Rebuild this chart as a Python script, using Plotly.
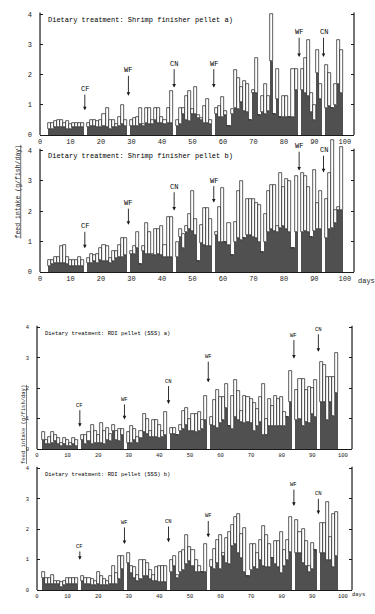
import plotly.graph_objects as go

# days with a bar; gap days (no feeding) are None in the series
DAYS_TOP = list(range(3, 100))
DAYS_BOTTOM = list(range(2, 99))

# panel a) shrimp finisher pellet: total daily intake and the dark (lower) part
TOTAL_A = [0.4, 0.4, 0.45, 0.5, 0.5, 0.4, 0.45, 0.35, 0.4, 0.4, 0.4, 0.4, None,
           0.4, 0.5, 0.5, 0.45, 0.5, 0.7, 0.9, 0.5, 0.5, 0.35, 0.6, 1.0, 0.5, None,
           0.5, 0.55, 0.6, 0.9, 0.35, 0.9, 0.9, 0.5, 0.9, 0.9, 0.6, 0.5, 0.9, 1.45, None,
           0.5, 0.9, 0.9, 1.3, 1.45, 0.85, 1.6, 0.65, 0.55, 0.95, 1.2, 0.5, None,
           0.9, 0.95, 1.25, 0.8, 0.3, 0.85, 2.15, 1.9, 1.6, 1.8, 1.7, 0.5, 1.4, 2.55,
           0.65, 1.3, 1.7, 1.3, 4.0, 0.7, 2.2, 0.6, 1.3, 1.3, 0.6, 2.2, 2.2, None,
           2.2, 2.55, 3.15, 1.4, 1.0, 2.8, 1.7, None,
           2.3, 2.05, 0.9, 1.7, 3.15, 2.8]
DARK_A = [0.2, 0.2, 0.25, 0.25, 0.25, 0.25, 0.2, 0.2, 0.25, 0.25, 0.25, 0.25, None,
          0.25, 0.3, 0.3, 0.25, 0.25, 0.3, 0.25, 0.2, 0.25, 0.25, 0.3, 0.35, 0.3, None,
          0.3, 0.3, 0.3, 0.35, 0.3, 0.4, 0.35, 0.35, 0.5, 0.4, 0.4, 0.35, 0.4, 0.4, None,
          0.3, 0.35, 0.7, 0.5, 0.45, 0.7, 0.7, 0.55, 0.5, 0.4, 0.4, 0.35, None,
          0.7, 0.6, 0.6, 0.65, 0.3, 0.7, 0.9, 0.85, 1.1, 0.8, 0.75, 0.5, 1.5, 1.4,
          0.65, 0.75, 0.7, 0.8, 2.45, 0.7, 1.2, 0.6, 0.6, 0.6, 0.6, 0.6, 1.5, None,
          1.5, 1.4, 1.3, 0.75, 0.5, 2.05, 1.2, None,
          0.9, 0.95, 0.9, 1.0, 1.7, 1.4]

# panel b) shrimp finisher pellet
TOTAL_B = [0.4, 0.4, 0.5, 0.5, 0.85, 0.9, 0.5, 0.4, 0.4, 0.4, 0.5, 0.4, None,
           0.45, 0.6, 0.55, 0.6, 0.8, 0.9, 0.85, 0.45, 0.7, 0.7, 0.9, 1.1, 1.1, None,
           0.7, 0.85, 1.3, 0.25, 0.85, 1.6, 1.3, 0.6, 1.4, 1.4, 1.5, 0.9, 1.8, 1.8, None,
           1.0, 1.4, 1.25, 1.5, 1.9, 2.65, 1.75, 0.35, 1.55, 2.1, 2.1, 1.75, None,
           1.3, 2.15, 2.75, 1.0, 1.6, 0.55, 1.65, 2.65, 3.0, 1.1, 2.4, 2.4, 2.4, 2.25,
           2.2, 0.65, 1.9, 2.65, 2.85, 2.85, 1.5, 3.25, 2.8, 3.05, 3.0, 0.8, 3.15, None,
           3.25, 3.15, 2.8, 1.15, 3.35, 2.25, 2.65, None,
           2.4, 3.25, 4.35, 2.05, 2.15, 4.1]
DARK_B = [0.2, 0.25, 0.3, 0.3, 0.3, 0.3, 0.25, 0.2, 0.2, 0.2, 0.2, 0.2, None,
          0.3, 0.3, 0.35, 0.3, 0.4, 0.35, 0.35, 0.3, 0.35, 0.45, 0.5, 0.5, 0.55, None,
          0.6, 0.6, 0.8, 0.25, 0.7, 0.6, 0.6, 0.55, 0.55, 0.6, 0.55, 0.5, 0.5, 0.5, None,
          0.5, 1.15, 0.8, 1.3, 1.4, 1.35, 1.2, 0.35, 0.95, 0.9, 0.85, 0.85, None,
          1.2, 1.0, 1.0, 1.0, 0.9, 0.55, 1.0, 1.1, 1.05, 1.1, 1.2, 1.2, 1.15, 1.1,
          1.0, 0.65, 1.0, 1.3, 1.4, 1.35, 1.3, 1.45, 1.5, 1.4, 1.3, 0.8, 1.3, None,
          1.3, 1.35, 1.3, 1.15, 1.35, 1.4, 1.4, None,
          1.1, 1.4, 1.45, 1.6, 2.05, 2.05]

# panel a) RDI pellet
TOTAL_C = [0.55, 0.3, 0.4, 0.55, 0.45, 0.35, 0.2, 0.35, 0.3, 0.2, 0.35, 0.3, None,
           0.45, 0.45, 0.55, 0.8, 0.6, 0.45, 0.85, 0.6, 0.7, 0.5, 0.8, 0.6, 0.65, 0.65, None,
           0.55, 0.75, 0.65, 0.4, 0.6, 1.15, 1.0, 0.6, 0.95, 0.95, 0.8, 0.6, 1.2, None,
           0.7, 0.7, 0.45, 0.8, 1.25, 1.35, 1.0, 1.15, 1.15, 1.2, 0.95, 1.75, None,
           1.05, 1.6, 1.95, 1.7, 1.7, 2.15, 0.75, 1.75, 2.25, 1.9, 1.25, 1.75, 1.7, 1.65,
           1.5, 1.3, 1.7, 2.15, 0.45, 1.65, 1.4, 1.75, 1.65, 1.7, 1.2, 1.05, 2.55, None,
           1.95, 2.3, 2.3, 1.95, 2.05, 2.0, 2.25, None,
           2.85, 2.75, 2.35, 2.35, 2.35, 3.15]
DARK_C = [0.3, 0.15, 0.15, 0.2, 0.25, 0.15, 0.1, 0.15, 0.1, 0.1, 0.15, 0.1, None,
          0.3, 0.15, 0.25, 0.15, 0.2, 0.2, 0.2, 0.15, 0.3, 0.25, 0.6, 0.3, 0.25, 0.45, None,
          0.2, 0.2, 0.3, 0.2, 0.35, 0.55, 0.5, 0.4, 0.4, 0.4, 0.35, 0.4, 0.45, None,
          0.5, 0.5, 0.45, 0.6, 0.65, 0.8, 0.6, 0.6, 0.55, 0.6, 0.65, 0.95, None,
          0.8, 0.75, 0.7, 0.85, 0.95, 1.35, 0.75, 0.65, 1.05, 0.95, 0.9, 0.85, 0.9, 0.85,
          0.6, 0.75, 0.9, 0.45, 1.0, 0.75, 0.75, 0.75, 0.75, 0.75, 0.75, 1.05, 1.55, None,
          0.95, 1.0, 0.75, 0.9, 0.85, 1.15, 1.05, None,
          1.55, 1.55, 0.95, 1.55, 1.1, 1.85]

# panel b) RDI pellet
TOTAL_D = [0.6, 0.4, 0.4, 0.5, 0.3, 0.3, 0.25, 0.3, 0.4, 0.4, 0.4, 0.4, None,
           0.45, 0.4, 0.4, 0.35, 0.3, 0.6, 0.45, 0.35, 0.3, 0.45, 0.8, 0.55, 1.1, 1.1, None,
           1.2, 0.8, 0.75, 0.5, 1.0, 1.0, 0.9, 0.65, 0.5, 0.75, 0.8, 0.8, 0.8, None,
           1.0, 1.1, 0.5, 1.25, 1.3, 1.8, 1.4, 1.3, 1.0, 0.8, 0.6, 1.5, None,
           1.0, 1.35, 1.65, 1.8, 1.2, 1.7, 1.9, 2.15, 2.4, 2.5, 1.85, 2.05, 0.45, 1.5,
           1.5, 1.2, 1.65, 2.1, 1.8, 1.5, 1.05, 1.6, 1.6, 1.9, 1.3, 1.65, 2.4, None,
           2.3, 1.9, 2.0, 1.6, 0.8, 1.55, 1.3, None,
           2.2, 2.2, 2.9, 1.75, 2.5, 2.55]
DARK_D = [0.4, 0.2, 0.2, 0.2, 0.2, 0.2, 0.1, 0.15, 0.2, 0.2, 0.2, 0.2, None,
          0.3, 0.2, 0.2, 0.15, 0.15, 0.2, 0.15, 0.15, 0.15, 0.2, 0.2, 0.2, 0.35, 0.7, None,
          0.9, 0.55, 0.4, 0.3, 0.35, 0.45, 0.45, 0.35, 0.3, 0.3, 0.25, 0.25, 0.25, None,
          0.6, 0.8, 0.4, 0.6, 0.65, 0.85, 0.95, 0.8, 0.6, 0.6, 0.6, 0.6, None,
          0.75, 0.7, 0.9, 0.7, 1.1, 0.9, 0.85, 1.45, 1.5, 1.2, 1.05, 0.6, 0.45, 0.65,
          0.75, 0.7, 1.0, 0.8, 0.75, 0.75, 1.05, 0.85, 0.75, 0.55, 0.8, 1.0, 1.25, None,
          1.2, 1.2, 0.9, 0.8, 0.6, 0.7, 1.3, None,
          1.2, 1.2, 1.0, 1.0, 0.75, 1.1]

TITLES = ["Dietary treatment: Shrimp finisher pellet a)",
          "Dietary treatment: Shrimp finisher pellet b)",
          "Dietary treatment: RDI pellet (SSS) a)",
          "Dietary treatment: RDI pellet (SSS) b)"]

# arrow markers: label, day, label height, arrow tip height
MARKS_A = [("CF", 14.7, 1.52, 0.82), ("WF", 29, 2.14, 1.3), ("CN", 44, 2.36, 1.57),
           ("WF", 57, 2.36, 1.57), ("WF", 85, 3.4, 2.58), ("CN", 93, 3.4, 2.58)]
MARKS_B = [("CF", 14.7, 1.5, 0.78), ("WF", 29, 2.26, 1.55), ("CN", 44, 2.8, 2.02),
           ("WF", 57, 3.0, 2.28), ("WF", 85, 4.13, 3.33), ("CN", 93, 4.0, 3.27)]
MARKS_C = [("CF", 14, 1.44, 0.73), ("WF", 28.6, 1.63, 0.97), ("CN", 43, 2.23, 1.48),
           ("WF", 56, 3.03, 2.19), ("WF", 84, 3.74, 2.97), ("CN", 92, 3.93, 3.19)]
MARKS_D = [("CF", 14, 1.43, 0.99), ("WF", 28.6, 2.22, 1.51), ("CN", 43, 2.25, 1.57),
           ("WF", 56, 2.43, 1.73), ("WF", 84, 3.46, 2.76), ("CN", 92, 3.16, 2.49)]

FONT = "Liberation Mono"
INK = "#1a1a1a"
DARK_COLOR = "#505050"

panels = [
    (DAYS_TOP, TOTAL_A, DARK_A, MARKS_A, [0.1067, 0.944], [0.7801, 0.9967], 7),
    (DAYS_TOP, TOTAL_B, DARK_B, MARKS_B, [0.1067, 0.944], [0.557, 0.7752], 7),
    (DAYS_BOTTOM, TOTAL_C, DARK_C, MARKS_C, [0.0987, 0.9387], [0.2687, 0.487], 5.5),
    (DAYS_BOTTOM, TOTAL_D, DARK_D, MARKS_D, [0.0987, 0.9387], [0.0391, 0.2573], 5.5),
]

fig = go.Figure()
annotations = []
shapes = []

for i, (days, total, dark, marks, xdom, ydom, fs) in enumerate(panels):
    n = "" if i == 0 else str(i + 1)
    xa, ya = "x" + n, "y" + n
    upper = [None if t is None else round(t - d, 3) for t, d in zip(total, dark)]

    fig.add_bar(x=days, y=dark, width=1, xaxis=xa, yaxis=ya,
                marker=dict(color=DARK_COLOR, line=dict(width=0)), showlegend=False)
    fig.add_bar(x=days, y=upper, base=dark, width=1, xaxis=xa, yaxis=ya,
                marker=dict(color="white", line=dict(color=INK, width=0.7)),
                showlegend=False)

    fig.layout["xaxis" + n] = dict(
        domain=xdom, anchor=ya, range=[0, 103], tickvals=list(range(0, 101, 10)),
        showgrid=False, zeroline=False, showline=True, linecolor=INK, linewidth=1,
        ticks="", automargin=False,
        tickfont=dict(family=FONT, size=fs, color=INK),
    )
    fig.layout["yaxis" + n] = dict(
        domain=ydom, anchor=xa, range=[0, 4.4], tickvals=[0, 1, 2, 3, 4],
        showgrid=False, zeroline=False, showline=False, ticks="inside", ticklen=3,
        tickcolor=INK, mirror="ticks", ticklabelstandoff=7, automargin=False,
        tickfont=dict(family=FONT, size=fs, color=INK),
    )

    # axis lines only run up to the 4 mark
    for xd in (0, 1):
        shapes.append(dict(type="line", xref=xa + " domain", yref=ya,
                           x0=xd, x1=xd, y0=0, y1=4.05,
                           line=dict(color=INK, width=1.2)))

    annotations.append(dict(text=TITLES[i], xref=xa, yref=ya, x=2, y=3.8,
                            xanchor="left", yanchor="middle", showarrow=False,
                            font=dict(family=FONT, size=fs, color="black")))

    for lab, day, ly, tip in marks:
        annotations.append(dict(text=lab, xref=xa, yref=ya, x=day, y=tip,
                                axref=xa, ayref=ya, ax=day, ay=ly,
                                showarrow=True, arrowhead=2, arrowsize=0.8,
                                arrowwidth=0.9, arrowcolor=INK,
                                font=dict(family=FONT, size=fs, color="black")))

annotations.append(dict(text="days", xref="paper", yref="paper", x=356 / 375,
                        y=1 - 281 / 614, xanchor="left", showarrow=False,
                        font=dict(family=FONT, size=7, color=INK)))
annotations.append(dict(text="days", xref="paper", yref="paper", x=350 / 375,
                        y=1 - 600 / 614, xanchor="left", showarrow=False,
                        font=dict(family=FONT, size=5.5, color=INK)))
annotations.append(dict(text="<u>feed intake (g/fish/day)</u>", xref="paper", yref="paper",
                        x=12 / 375, y=1 - 143 / 614, textangle=-90, showarrow=False,
                        font=dict(family=FONT, size=6.5, color=INK)))
annotations.append(dict(text="<u>feed intake (g/fish/day)</u>", xref="paper", yref="paper",
                        x=18 / 375, y=1 - 466 / 614, textangle=-90, showarrow=False,
                        font=dict(family=FONT, size=5.5, color=INK)))

fig.update_layout(
    width=375, height=614, margin=dict(l=0, r=0, t=0, b=0, autoexpand=False),
    paper_bgcolor="white", plot_bgcolor="white",
    barmode="overlay", bargap=0,
    annotations=annotations, shapes=shapes,
)

# the page body has a default 8px margin; drop it so the figure fills the window
fig.write_html("out.html", config={"displayModeBar": False},
               post_script="document.body.style.margin='0';document.body.style.overflow='hidden';")
